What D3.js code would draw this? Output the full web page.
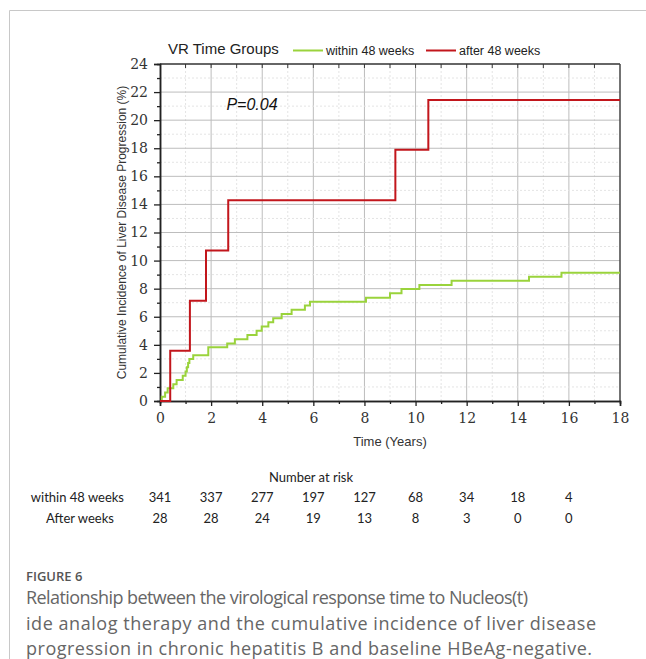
<!DOCTYPE html>
<html>
<head>
<meta charset="utf-8">
<script src="https://cdn.jsdelivr.net/npm/d3@7/dist/d3.min.js"></script>
<style>
  body { margin: 0; background: #fff; }
  svg { display: block; }
</style>
</head>
<body>
<div id="chart"></div>
<script>
// green: VR within 48 weeks, red: after 48 weeks
var withinTimes  = [0, 0.07, 0.2, 0.3, 0.52, 0.65, 0.89, 1.0, 1.05, 1.1, 1.15, 1.3, 1.89, 2.63, 2.93, 3.42, 3.78, 3.98, 4.24, 4.43, 4.76, 5.15, 5.67, 5.87, 8.06, 9.0, 9.45, 10.15, 11.41, 14.44, 15.71, 18];
var withinValues = [0, 0.3, 0.6, 0.9, 1.2, 1.5, 1.8, 2.1, 2.4, 2.7, 3.0, 3.25, 3.82, 4.1, 4.4, 4.7, 5.0, 5.3, 5.6, 5.9, 6.2, 6.5, 6.8, 7.07, 7.36, 7.67, 7.98, 8.26, 8.57, 8.85, 9.14, 9.14];
var afterTimes   = [0, 0.4, 1.17, 1.8, 2.67, 9.21, 10.5, 18];
var afterValues  = [0, 3.57, 7.14, 10.71, 14.29, 17.9, 21.43, 21.43];

var xTicks = [0, 2, 4, 6, 8, 10, 12, 14, 16, 18];
var yTicks = [0, 2, 4, 6, 8, 10, 12, 14, 16, 18, 20, 22, 24];

var riskTimes  = [0, 2, 4, 6, 8, 10, 12, 14, 16];
var riskWithin = [341, 337, 277, 197, 127, 68, 34, 18, 4];
var riskAfter  = [28, 28, 24, 19, 13, 8, 3, 0, 0];

var groupNames = ["within 48 weeks", "after 48 weeks"];
var rowNames = ["within 48 weeks", "After weeks"];

var W = 646, H = 659;
var green = "#9ad33c", red = "#c2161c";

var svg = d3.select("#chart").append("svg")
    .attr("width", W).attr("height", H);

// card border (top + left only)
svg.append("line").attr("x1", 9.5).attr("x2", W).attr("y1", 10.5).attr("y2", 10.5)
    .attr("stroke", "#c8c8c8");
svg.append("line").attr("x1", 9.5).attr("x2", 9.5).attr("y1", 10.5).attr("y2", H)
    .attr("stroke", "#c8c8c8");

var x = d3.scaleLinear().domain([0, 18]).range([160, 620]);
var y = d3.scaleLinear().domain([0, 24]).range([401, 64]);

/* grid */
var grid = svg.append("g");
d3.range(1, 18).forEach(function(t) {
    grid.append("line")
        .attr("x1", x(t)).attr("x2", x(t)).attr("y1", y(0)).attr("y2", y(24))
        .attr("stroke", t % 2 ? "#e4e4e4" : "#bdbdbd")
        .attr("stroke-dasharray", t % 2 ? "2,2" : null);
});
d3.range(1, 24).forEach(function(v) {
    grid.append("line")
        .attr("x1", x(0)).attr("x2", x(18)).attr("y1", y(v)).attr("y2", y(v))
        .attr("stroke", v % 2 ? "#e4e4e4" : "#bdbdbd")
        .attr("stroke-dasharray", v % 2 ? "2,2" : null);
});

/* frame top + right */
svg.append("line").attr("x1", x(0)).attr("x2", x(18)).attr("y1", y(24)).attr("y2", y(24))
    .attr("stroke", "#333").attr("stroke-width", 1.5);
svg.append("line").attr("x1", x(18)).attr("x2", x(18)).attr("y1", y(24)).attr("y2", y(0))
    .attr("stroke", "#444").attr("stroke-width", 1.5);
svg.append("g").selectAll("line").data(d3.range(1, 18)).enter().append("line")
    .attr("x1", d => x(d)).attr("x2", d => x(d))
    .attr("y1", y(24)).attr("y2", y(24) + 4)
    .attr("stroke", "#333");

/* axes */
var serif = "'DejaVu Serif', 'Liberation Serif', serif";

var xMinor = svg.append("g").attr("transform", `translate(0, ${y(0)})`)
    .call(d3.axisBottom(x).tickValues(d3.range(1, 18, 2)).tickSize(3).tickFormat(""));
var xAxis = svg.append("g").attr("transform", `translate(0, ${y(0)})`)
    .call(d3.axisBottom(x).tickValues(xTicks).tickSize(5).tickPadding(7));
var yMinor = svg.append("g").attr("transform", `translate(${x(0)}, 0)`)
    .call(d3.axisLeft(y).tickValues(d3.range(1, 24, 2)).tickSize(3).tickFormat(""));
var yAxis = svg.append("g").attr("transform", `translate(${x(0)}, 0)`)
    .call(d3.axisLeft(y).tickValues(yTicks).tickSize(6).tickPadding(6));

[xMinor, xAxis, yMinor, yAxis].forEach(function(a) {
    a.select(".domain").attr("stroke", "#222").attr("stroke-width", 1.5);
    a.selectAll(".tick line").attr("stroke", "#222").attr("stroke-width", 1.3);
    a.selectAll("text").style("font-family", serif).style("font-size", "14px").attr("fill", "#333");
});

/* curves */
var line = d3.line()
    .x(d => x(d[0]))
    .y(d => y(d[1]))
    .curve(d3.curveStepAfter);

svg.append("path")
    .datum(withinTimes.map((t, i) => [t, withinValues[i]]))
    .attr("d", line)
    .attr("fill", "none").attr("stroke", green).attr("stroke-width", 2);

svg.append("path")
    .datum(afterTimes.map((t, i) => [t, afterValues[i]]))
    .attr("d", line)
    .attr("fill", "none").attr("stroke", red).attr("stroke-width", 2);

/* labels */
var sans = "'Liberation Sans', Arial, sans-serif";

svg.append("text")
    .attr("transform", `translate(126, ${(y(0) + y(24)) / 2 + 0}) rotate(-90)`)
    .attr("text-anchor", "middle")
    .style("font-family", sans).style("font-size", "12px").attr("fill", "#333")
    .text("Cumulative Incidence of Liver Disease Progression (%)");

svg.append("text")
    .attr("x", (x(0) + x(18)) / 2).attr("y", 446)
    .attr("text-anchor", "middle")
    .style("font-family", sans).style("font-size", "13px").attr("fill", "#333")
    .text("Time (Years)");

svg.append("text")
    .attr("x", x(2.6)).attr("y", 110)
    .style("font-family", sans).style("font-size", "16px").style("font-style", "italic")
    .attr("fill", "#111")
    .text("P=0.04");

/* legend */
svg.append("text")
    .attr("x", 168).attr("y", 54)
    .style("font-family", sans).style("font-size", "15px").attr("fill", "#222")
    .text("VR Time Groups");

var legend = svg.append("g");
[[293, green], [426, red]].forEach(function(p, i) {
    legend.append("line")
        .attr("x1", p[0]).attr("x2", p[0] + 30).attr("y1", 50.5).attr("y2", 50.5)
        .attr("stroke", p[1]).attr("stroke-width", 2);
    legend.append("text")
        .attr("x", p[0] + 33).attr("y", 54.5)
        .style("font-family", sans).style("font-size", "12.5px").attr("fill", "#222")
        .text(groupNames[i]);
});

/* number at risk */
var risk = "Lato, 'Open Sans', sans-serif";
svg.append("text")
    .attr("x", 311).attr("y", 482)
    .attr("text-anchor", "middle")
    .style("font-family", risk).style("font-size", "13px").attr("fill", "#222")
    .text("Number at risk");

[[riskWithin, 502, "end", 124], [riskAfter, 523, "middle", 80]].forEach(function(r, i) {
    svg.append("text")
        .attr("x", r[3]).attr("y", r[1])
        .attr("text-anchor", r[2])
        .style("font-family", risk).style("font-size", "13px").attr("fill", "#222")
        .text(rowNames[i]);
    svg.append("g").selectAll("text").data(riskTimes).enter().append("text")
        .attr("x", d => x(d)).attr("y", r[1])
        .attr("text-anchor", "middle")
        .style("font-family", risk).style("font-size", "13px").attr("fill", "#222")
        .text((d, j) => r[0][j]);
});

/* caption */
svg.append("text")
    .attr("x", 26).attr("y", 581)
    .style("font-family", "'Open Sans', sans-serif").style("font-size", "13px")
    .style("font-weight", 600).attr("fill", "#555")
    .text("FIGURE 6");

var caption = [
    "Relationship between the virological response time to Nucleos(t)",
    "ide analog therapy and the cumulative incidence of liver disease",
    "progression in chronic hepatitis B and baseline HBeAg-negative."
];
var captionWidths = [502, 570, 566];
svg.append("g").selectAll("text").data(caption).enter().append("text")
    .attr("x", 26).attr("y", (d, i) => 604 + i * 25.5)
    .attr("textLength", (d, i) => captionWidths[i])
    .attr("lengthAdjust", "spacing")
    .style("font-family", "'Open Sans', sans-serif").style("font-size", "18px")
    .attr("fill", "#666")
    .text(d => d);
</script>
</body>
</html>
